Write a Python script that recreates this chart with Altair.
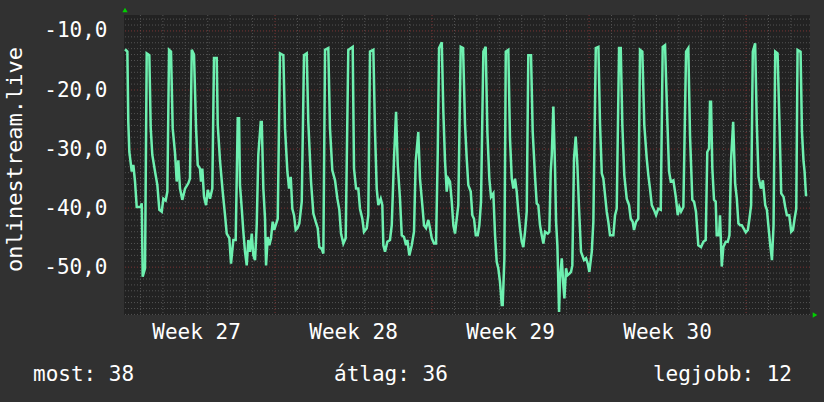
import altair as alt
import pandas as pd

# hours since Monday 00:00 of week 27
HOURS = [
    7.5, 10, 11, 12.1, 14.7, 16.4, 18.2, 20, 24.3, 25.4, 26.4, 28.9,
    30.7, 33.5, 35, 36.7, 39.6, 42.1, 44.2, 46.8, 48.5, 51, 52.8,
    54.6, 56.7, 58.5, 61, 62.8, 64.5, 66.3, 68.8, 71.7, 75.2, 77,
    78.9, 81.3, 83.5, 85.3, 87.7, 88.8, 90.2, 92, 94.2, 96, 98.4, 100.9,
    102.7, 105.6, 106.7, 109.1, 112, 114.5, 116.3, 119.1, 120.9, 123.4, 125.9,
    128.1, 129.5, 130.5, 132.4, 134.1, 135.9, 137.7, 139.4, 141.2, 143.1, 144.8, 146.6, 148.4, 150.1,
    152.7, 153.8, 155.5, 157.3, 158.4, 160.2, 161.9, 163.7, 165.5, 167.2, 168.7, 170.9,
    173.3, 176.9, 178.7, 181.2, 183, 184.8, 186.5, 188.3, 190.1, 191.9, 194, 196.6,
    199, 201.9, 203.6, 206.5, 209, 211.5, 213.7, 215.4, 218, 219.7,
    221.5, 225, 226.8, 229.3, 232.2, 234.7, 236.8, 238.6, 241.1, 243.6,
    246.4, 251.1, 252.5, 254.7, 257.1, 258.9, 261.4, 263.2, 266.1, 267.8,
    269.6, 273.2, 275, 276.8, 278.5, 281.1, 282.8, 283.9, 285.7, 288.2, 291, 292.9, 295.3,
    297.5, 299.3, 301.7, 303.6, 306, 308.2, 309.6, 311.7, 314.3, 316.7, 318.5,
    321.3, 323.1, 325.6, 327.4, 329.6, 332, 333.8, 335.7, 338.1, 340.3, 342.1,
    343.5, 346.4, 348.1, 349.9, 351.7, 353.4, 355.2, 357.1, 358.8, 360.6, 362.4, 364.1,
    366.7, 369.2, 371.3, 373.1, 374.8, 377.4, 379.1, 380.9, 382.8, 384.9, 386.6, 388.4,
    390.9, 393.4, 395.2, 397.3, 399.1, 401.6, 403.4, 405.2, 406.9, 408.7, 410.6, 411.6, 413.4,
    414.9, 417.6, 419.4, 421.3, 423, 424.8, 426.6, 428.3, 430.1, 432, 433.7, 435.5, 437.3,
    439, 441.9, 443.7, 446.2, 448, 449.7, 451.5, 453.4, 455.1, 456.9, 459.8, 461.5, 463, 464.1,
    465.8, 467.6, 468.7, 470.1, 471.9, 473, 474.8, 476.5, 477.6, 479.4, 480.8, 483, 484.7, 486.1, 487.9,
    489.7, 491.5, 493.3, 495.4, 498.6, 500.8, 502.6, 504.3, 506.9, 508.6,
    511.2, 514, 515.7, 517.6, 519.3, 520.4, 522.9, 524.6, 526.4, 530, 531.8, 533.6,
    536.1, 537.9, 539.6, 541.7, 544.3, 546.8, 548.6, 550.7, 552.1, 554.3, 556.7,
    558.5, 561, 563.1, 565.7, 567.4, 569.2, 571.1, 573.5, 575.7, 578.1, 580.7,
    582.8, 585.3, 587.8, 589.6, 591.4, 594.2, 596.8, 598.9, 600.6, 602.4, 604.9,
    607.8, 610.2, 612, 614.5, 616.3, 618.4, 620.9, 623.8, 626.3, 628.8, 630.5, 632.4,
    633.4, 634.5, 635.9, 637.7, 639.5, 640.6, 643.1, 644.1, 646, 647.7, 650.3, 652.4, 654.2, 656,
    658.2, 660.3, 662.1, 663.8, 665.6, 667.4, 669.2, 671.7, 673.9, 675.6, 677.4,
    679.2, 681.7, 683.5, 685.3, 687.9, 690, 692.5, 694.3, 696, 697.9, 699.7, 701.4,
    703.2, 705.7, 707.8, 709.6, 712.1, 713.9, 715.7, 718.2, 720.3, 722.2, 723.9, 725.7,
    727.1, 730.3, 731.8, 733.5, 734.6, 736.1, 737.5,
]
VALUES = [
    -13.1, -13.5, -25.4, -30.5, -33.8, -32.7, -35.5, -39.8, -39.8, -39.2, -51.6, -50.2,
    -13.8, -14.1, -26.5, -31.0, -33.8, -36.1, -40.3, -40.6, -38.4, -38.7, -37.2,
    -13.2, -13.5, -26.5, -30.7, -35.5, -31.9, -36.7, -38.6, -36.7, -35.8, -35.0,
    -13.2, -14.0, -26.5, -32.7, -33.3, -35.5, -33.3, -38.1, -39.5, -36.9, -38.4, -36.7,
    -14.6, -14.6, -25.9, -31.9, -37.2, -41.2, -44.3, -45.1, -49.4, -45.4, -45.4,
    -24.8, -24.8, -36.1, -40.1, -44.0, -47.4, -49.7, -45.4, -47.4, -44.3, -48.0, -48.8, -42.9, -31.0,
    -25.4, -25.4, -36.7, -41.8, -49.7, -44.9, -46.3, -45.1, -42.3, -43.7, -42.9, -41.8,
    -13.8, -14.1, -26.5, -33.8, -36.7, -34.7, -40.1, -41.2, -43.7, -43.4, -42.6, -38.9,
    -14.1, -13.8, -25.4, -35.5, -40.9, -42.3, -43.4, -46.6, -46.9, -47.7,
    -13.2, -12.9, -26.5, -33.6, -35.3, -38.4, -40.3, -44.3, -46.0, -45.1,
    -13.2, -12.7, -33.3, -36.7, -36.7, -40.1, -41.8, -44.0, -43.4, -41.2,
    -13.5, -13.2, -27.1, -36.7, -39.5, -38.4, -39.5, -46.3, -47.4, -45.7, -45.4, -42.9, -31.6,
    -23.7, -32.7, -38.4, -44.6, -44.9, -46.3, -45.4, -48.0, -46.3, -44.0, -32.1,
    -27.1, -35.0, -39.5, -42.9, -43.4, -42.0, -43.4, -45.1, -46.0, -46.0, -30.5,
    -12.9, -11.9, -23.7, -32.1, -37.2, -35.0, -35.5, -38.9, -42.9, -44.3, -41.8, -39.5,
    -12.7, -12.9, -25.9, -31.6, -36.1, -37.2, -41.2, -41.8, -44.6, -44.6, -42.9, -38.9,
    -13.5, -12.7, -27.1, -35.0, -38.1, -37.5, -44.6, -49.1, -50.2, -52.5, -56.4, -56.4, -48.5,
    -13.5, -13.2, -28.2, -35.0, -36.7, -35.0, -37.2, -40.6, -43.4, -45.7, -46.6, -44.0, -40.6,
    -14.1, -14.1, -27.1, -34.7, -39.2, -39.5, -42.9, -44.6, -46.0, -44.0, -44.3, -44.0, -33.8, -31.0,
    -22.8, -33.3, -42.3, -46.3, -57.6, -51.9, -48.5, -53.1, -55.3, -50.2, -51.4, -51.1, -50.8, -49.7, -31.6,
    -27.9, -32.7, -40.1, -47.4, -48.8, -48.5, -49.4, -50.8, -47.4, -42.3,
    -12.9, -12.7, -25.6, -34.1, -35.0, -36.7, -40.6, -42.3, -44.6, -44.6, -41.2, -40.1,
    -12.9, -12.9, -25.9, -34.4, -38.4, -39.5, -41.8, -42.3, -43.7, -42.3, -41.8,
    -13.2, -13.5, -25.9, -31.6, -34.4, -36.7, -39.5, -40.3, -41.2, -40.1, -40.3,
    -12.7, -12.4, -25.4, -33.8, -35.5, -35.3, -38.1, -41.2, -39.8, -40.6, -39.8,
    -13.5, -12.9, -27.6, -38.6, -38.9, -40.6, -46.3, -46.6, -45.7, -45.4, -30.5, -29.9,
    -22.0, -22.0, -33.3, -38.6, -38.9, -44.6, -44.6, -41.2, -49.9, -46.6, -45.7, -45.7, -44.6, -31.6,
    -25.4, -35.8, -38.4, -42.6, -42.9, -42.9, -43.4, -44.1, -43.7, -41.8, -39.5,
    -13.5, -12.1, -25.9, -34.7, -36.7, -35.3, -39.5, -40.3, -43.2, -46.3, -48.8, -42.9,
    -13.5, -13.8, -25.9, -37.5, -38.1, -39.8, -41.2, -41.2, -44.0, -43.7, -41.8, -40.1,
    -13.2, -13.5, -27.1, -32.1, -33.8, -37.8, -37.8,
]

Y_TICKS = [-10, -20, -30, -40, -50]
WEEK_START = [168, 336, 504, 672]
WEEK_MID = [84, 252, 420, 588]
WEEK_LABELS = ["Week 27", "Week 28", "Week 29", "Week 30"]
STAT_TEXT = ["most: 38", "átlag: 36", "legjobb: 12"]
Y_TITLE = "onlinestream.live"

X_DOMAIN = [6.4, 740.4]
Y_DOMAIN = [-58.1, -7.3]

FONT = "DejaVu Sans Mono"
W, H = 686, 300

xs = alt.Scale(domain=X_DOMAIN, nice=False, zero=False)
ys = alt.Scale(domain=Y_DOMAIN, nice=False, zero=False)

y_axis = alt.Axis(
    values=Y_TICKS,
    labelExpr="'-' + replace(format(abs(datum.value), '.1f'), '.', ',')",
    labelFont=FONT,
    labelFontSize=21,
    labelColor="#ffffff",
    labelPadding=17,
    ticks=False,
    domain=False,
    grid=False,
    title=Y_TITLE,
    titleFont=FONT,
    titleFontSize=22,
    titleFontWeight="normal",
    titleColor="#ffffff",
    titleAngle=270,
    titleAlign="center",
    titleBaseline="middle",
    titleX=-110,
    titleY=144,
)

df = pd.DataFrame({"t": HOURS, "v": VALUES})

minor_h = [v for v in range(-58, -7) if v % 10 != 0]
minor_v = [24 * k for k in range(1, 31) if k % 7 != 0 and X_DOMAIN[0] < 24 * k < X_DOMAIN[1]]

grid_h_minor = alt.Chart(pd.DataFrame({"v": minor_h})).mark_rule(
    color="#535353", strokeDash=[1, 2], strokeWidth=1
).encode(y=alt.Y("v:Q", scale=ys, axis=y_axis))

grid_v_minor = alt.Chart(pd.DataFrame({"t": minor_v})).mark_rule(
    color="#535353", strokeDash=[1, 2], strokeWidth=1
).encode(x=alt.X("t:Q", scale=xs, axis=None))

grid_h_major = alt.Chart(pd.DataFrame({"v": Y_TICKS})).mark_rule(
    color="#7a3434", strokeDash=[1, 2], strokeWidth=1
).encode(y=alt.Y("v:Q", scale=ys, axis=y_axis))

grid_v_major = alt.Chart(pd.DataFrame({"t": WEEK_START})).mark_rule(
    color="#7a3434", strokeDash=[1, 2], strokeWidth=1
).encode(x=alt.X("t:Q", scale=xs, axis=None))

line = alt.Chart(df).mark_line(
    color="#6ef0b0", strokeWidth=2.5, interpolate="linear"
).encode(
    x=alt.X("t:Q", scale=xs, axis=None),
    y=alt.Y("v:Q", scale=ys, axis=y_axis),
)

week_text = alt.Chart(pd.DataFrame({"t": WEEK_MID, "label": WEEK_LABELS})).mark_text(
    font=FONT, fontSize=21, color="#ffffff", baseline="middle", align="center"
).encode(x=alt.X("t:Q", scale=xs, axis=None), y=alt.value(H + 18), text="label:N")

stats_df = pd.DataFrame({"label": STAT_TEXT})
stat_left = alt.Chart(stats_df.iloc[[0]]).mark_text(
    font=FONT, fontSize=21, color="#ffffff", baseline="middle", align="left"
).encode(x=alt.value(-91), y=alt.value(360), text="label:N")
stat_mid = alt.Chart(stats_df.iloc[[1]]).mark_text(
    font=FONT, fontSize=21, color="#ffffff", baseline="middle", align="left"
).encode(x=alt.value(210), y=alt.value(360), text="label:N")
stat_right = alt.Chart(stats_df.iloc[[2]]).mark_text(
    font=FONT, fontSize=21, color="#ffffff", baseline="middle", align="right"
).encode(x=alt.value(668), y=alt.value(360), text="label:N")

arrow_up = alt.Chart(pd.DataFrame({"t": [X_DOMAIN[0]], "v": [Y_DOMAIN[1]]})).mark_point(
    shape="triangle-up", filled=True, color="#00d000", size=28, opacity=1, yOffset=-5, xOffset=1
).encode(x=alt.X("t:Q", scale=xs, axis=None), y=alt.Y("v:Q", scale=ys, axis=y_axis))

arrow_right = alt.Chart(pd.DataFrame({"t": [X_DOMAIN[1]], "v": [Y_DOMAIN[0]]})).mark_point(
    shape="triangle-right", filled=True, color="#00d000", size=28, opacity=1, xOffset=5
).encode(x=alt.X("t:Q", scale=xs, axis=None), y=alt.Y("v:Q", scale=ys, axis=y_axis))

chart = alt.layer(
    grid_h_minor, grid_v_minor, grid_h_major, grid_v_major, line,
    week_text, stat_left, stat_mid, stat_right, arrow_up, arrow_right,
).properties(
    width=W,
    height=H,
    background="#313131",
    padding={"left": 124, "top": 15, "right": 14, "bottom": 87},
    autosize=alt.AutoSizeParams(type="none"),
).configure_view(fill="#222222", stroke=None)

chart.save("out.html", embed_options={"renderer": "svg", "actions": False})
